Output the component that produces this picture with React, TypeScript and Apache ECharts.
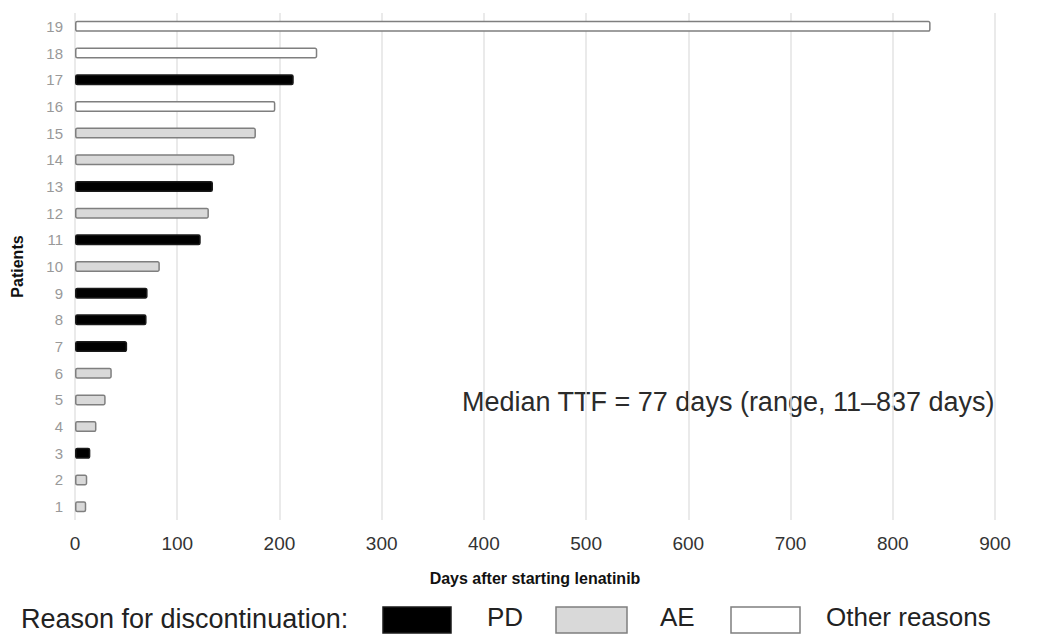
import React, { useEffect, useRef } from "react";
import * as echarts from "echarts";

const patients = ["1","2","3","4","5","6","7","8","9","10","11","12","13","14","15","16","17","18","19"];
const days = [11, 12, 15, 21, 30, 36, 51, 70, 71, 83, 123, 131, 135, 156, 177, 196, 214, 237, 837];
const reasons = ["AE","AE","PD","AE","AE","AE","PD","PD","PD","AE","PD","AE","PD","AE","AE","Other","PD","Other","Other"];
const xTicks = [0, 100, 200, 300, 400, 500, 600, 700, 800, 900];
const reasonNames = ["PD", "AE", "Other reasons"];
const reasonKeys = ["PD", "AE", "Other"];

const FONT = "Liberation Sans, Arial, sans-serif";
const fills: Record<string, string> = { PD: "#000000", AE: "#d9d9d9", Other: "#ffffff" };
const borders: Record<string, string> = { PD: "#1a1a1a", AE: "#7f7f7f", Other: "#7f7f7f" };

export default function App() {
  const ref = useRef<HTMLDivElement>(null);
  useEffect(() => {
    if (!ref.current) return;
    const chart = echarts.init(ref.current, null, { renderer: "svg" });
    const series = reasonKeys.map((k, i) => ({
      name: reasonNames[i],
      type: "bar",
      barWidth: 11,
      barGap: "-100%",
      data: days.map((d, j) => (reasons[j] === k ? d : null)),
      itemStyle: { color: fills[k], borderColor: borders[k], borderWidth: 1.5, borderRadius: 1.5 },
    }));
    const legendBoxes = [
      { x: 383, w: 68, tx: 487 },
      { x: 556, w: 71, tx: 660 },
      { x: 731, w: 69, tx: 826 },
    ];
    const graphics: any[] = [
      {
        type: "text",
        x: 462,
        y: 402,
        style: {
          text: "Median TTF = 77 days (range, 11\u2013837 days)",
          font: `27px ${FONT}`,
          fill: "#2b2b2b",
          verticalAlign: "middle",
        },
      },
      {
        type: "text",
        x: 21,
        y: 619,
        style: { text: "Reason for discontinuation:", font: `27px ${FONT}`, fill: "#222", verticalAlign: "middle" },
      },
    ];
    legendBoxes.forEach((b, i) => {
      const k = reasonKeys[i];
      graphics.push({
        type: "rect",
        shape: { x: b.x, y: 607, width: b.w, height: 26 },
        style: { fill: fills[k], stroke: borders[k], lineWidth: 1.5 },
      });
      graphics.push({
        type: "text",
        x: b.tx,
        y: 617,
        style: { text: reasonNames[i], font: `26px ${FONT}`, fill: "#222", verticalAlign: "middle" },
      });
    });
    chart.setOption({
      animation: false,
      grid: { left: 75, right: 68, top: 13, bottom: 123 },
      xAxis: {
        type: "value",
        min: xTicks[0],
        max: xTicks[xTicks.length - 1],
        interval: 100,
        name: "Days after starting lenatinib",
        nameLocation: "middle",
        nameGap: 50,
        nameTextStyle: { fontFamily: FONT, fontWeight: "bold", fontSize: 16, color: "#111" },
        axisLine: { show: false },
        axisTick: { show: false },
        axisLabel: { fontFamily: FONT, fontSize: 19, color: "#333", margin: 14 },
        splitLine: { show: true, lineStyle: { color: "#e3e3e3", width: 1.5 } },
      },
      yAxis: {
        type: "category",
        data: patients,
        name: "Patients",
        nameLocation: "middle",
        nameGap: 50,
        nameTextStyle: { fontFamily: FONT, fontWeight: "bold", fontSize: 16, color: "#111" },
        axisLine: { show: false },
        axisTick: { show: false },
        axisLabel: { fontFamily: FONT, fontSize: 15, color: "#999999", margin: 12 },
        splitLine: { show: false },
      },
      series,
      graphic: graphics,
    });
    return () => chart.dispose();
  }, []);
  return <div ref={ref} style={{ position: "absolute", left: 0, top: 0, width: 1063, height: 643 }} />;
}
